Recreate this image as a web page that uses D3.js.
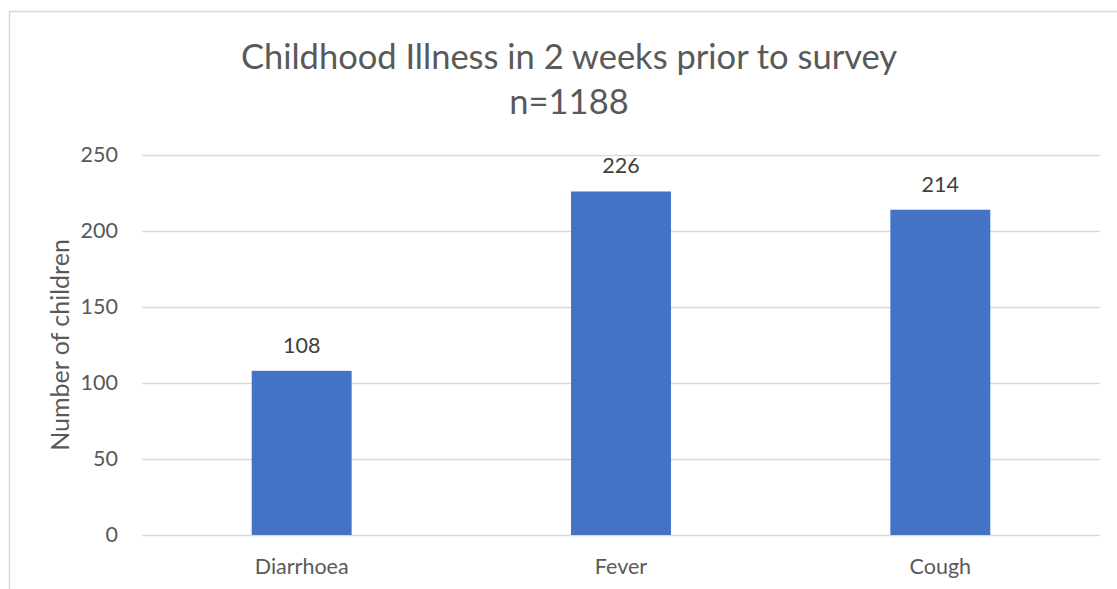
<!DOCTYPE html>
<html><head><meta charset="utf-8">
<script src="https://cdn.jsdelivr.net/npm/d3@7"></script>
<style>html,body{margin:0;padding:0;background:#fff;}svg{display:block;}</style>
</head><body>
<svg id="chart" width="1117" height="589"></svg>
<script>
const categories = ["Diarrhoea", "Fever", "Cough"];
const values = [108, 226, 214];
const yTicks = [0, 50, 100, 150, 200, 250];
const titleLines = ["Childhood Illness in 2 weeks prior to survey", "n=1188"];
const yTitle = "Number of children";

const W = 1117, H = 589;
const font = "Lato, 'Open Sans', sans-serif";
const svg = d3.select("#chart");

// chart border
svg.append("rect").attr("x", 9.5).attr("y", 11.5).attr("width", 1200).attr("height", 700)
  .attr("fill", "#fff").attr("stroke", "#d9d9d9").attr("stroke-width", 1.5);

const plot = {left: 142, right: 1100, top: 155, bottom: 535};
const x = d3.scaleBand().domain(categories).range([plot.left, plot.right])
  .paddingInner(0.687).paddingOuter(0.3435);
const y = d3.scaleLinear().domain([0, 250]).range([plot.bottom, plot.top]);

// gridlines
svg.append("g").selectAll("line").data(yTicks).join("line")
  .attr("x1", plot.left).attr("x2", plot.right)
  .attr("y1", d => Math.round(y(d)) + 0.5).attr("y2", d => Math.round(y(d)) + 0.5)
  .attr("stroke", "#d9d9d9").attr("stroke-width", 1.5);

// y axis labels
const yAxis = d3.axisLeft(y).tickValues(yTicks).tickSize(0).tickPadding(0);
const ya = svg.append("g").attr("transform", `translate(118,0)`).call(yAxis);
ya.select(".domain").remove();
ya.selectAll("text").attr("font-family", font).attr("font-size", 21.5).attr("fill", "#595959");

// x axis labels
const xAxis = d3.axisBottom(x).tickSize(0).tickPadding(0);
const xa = svg.append("g").attr("transform", `translate(0,559)`).call(xAxis);
xa.select(".domain").remove();
xa.selectAll("text").attr("font-family", font).attr("font-size", 21.5).attr("fill", "#595959");

// bars
svg.append("g").selectAll("rect").data(values).join("rect")
  .attr("x", (d, i) => x(categories[i]))
  .attr("width", x.bandwidth())
  .attr("y", d => y(d))
  .attr("height", d => y(0) - y(d))
  .attr("fill", "#4472C4");

// data labels
svg.append("g").selectAll("text").data(values).join("text")
  .attr("x", (d, i) => x(categories[i]) + x.bandwidth() / 2)
  .attr("y", d => y(d) - 18)
  .attr("text-anchor", "middle")
  .attr("font-family", font).attr("font-size", 21.5).attr("fill", "#404040")
  .text(d => d);

// title
svg.append("g").selectAll("text").data(titleLines).join("text")
  .attr("x", 569).attr("y", (d, i) => 69 + i * 45)
  .attr("text-anchor", "middle")
  .attr("font-family", font).attr("font-size", 34.5).attr("fill", "#595959")
  .text(d => d);

// y axis title
svg.append("text")
  .attr("transform", `translate(69,345) rotate(-90)`)
  .attr("text-anchor", "middle")
  .attr("font-family", font).attr("font-size", 25).attr("fill", "#595959")
  .text(yTitle);
</script>
</body></html>
